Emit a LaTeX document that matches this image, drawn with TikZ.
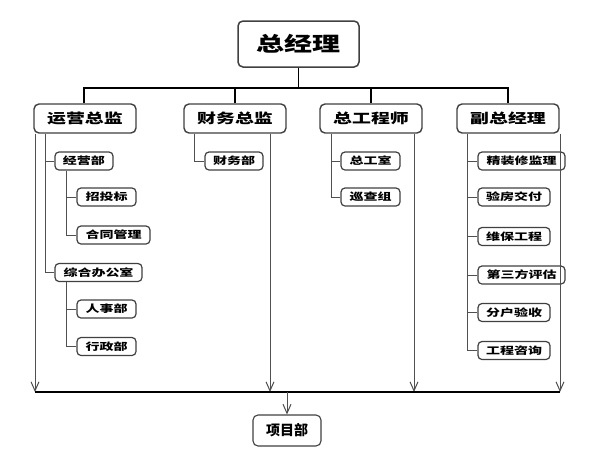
\documentclass[tikz,border=0pt]{standalone}
\usepackage{fontspec}
\usetikzlibrary{arrows.meta}
\newfontfamily\cjk{Noto Sans CJK SC}[FakeStretch=1.4]
\newfontfamily\cjkplain{Noto Sans CJK SC}
\definecolor{boxline}{HTML}{404040}
\definecolor{subline}{HTML}{505050}
\tikzset{
  lvla/.style={draw=boxline,line width=1.5pt,rounded corners=5pt,fill=white,minimum height=46pt,inner sep=0pt,font=\cjk\bfseries\fontsize{20}{20}\selectfont},
  lvlb/.style={draw=boxline,line width=1.4pt,rounded corners=5pt,fill=white,minimum width=102pt,minimum height=29pt,inner sep=0pt,font=\cjk\bfseries\fontsize{13.5}{14}\selectfont},
  lvlc/.style={draw=boxline,line width=1.2pt,rounded corners=4pt,fill=white,minimum height=18pt,inner sep=0pt,font=\cjk\bfseries\fontsize{10}{10}\selectfont},
  proj/.style={draw=boxline,line width=1.1pt,rounded corners=5pt,fill=white,minimum width=68pt,minimum height=31pt,inner sep=0pt,font=\cjkplain\bfseries\fontsize{14}{14}\selectfont},
  trunk/.style={draw=black,line width=1.6pt},
  branch/.style={draw=subline,line width=1pt},
}
\begin{document}
\begin{tikzpicture}[x=1pt,y=-1pt,>={Straight Barb[length=9pt,width=8pt]}]
    \useasboundingbox (0,0) rectangle (598,448);
    % top
    \node[lvla,minimum width=121pt] (gm) at (298.5,44) {总经理};
    \coordinate (bus) at (298.5,88);
    \coordinate (bot) at (298.5,392);
    % second row
    \node[lvlb] (yy) at (85,118.5) {运营总监};
    \node[lvlb] (cw) at (235,118.5) {财务总监};
    \node[lvlb] (zg) at (371,118.5) {总工程师};
    \node[lvlb] (fz) at (508,118.5) {副总经理};
    % departments
    \node[lvlc,minimum width=58pt] (jyb) at (84,161) {经营部};
    \node[lvlc,minimum width=59pt] (ztb) at (106.5,197) {招投标};
    \node[lvlc,minimum width=73pt] (htgl) at (113.5,235) {合同管理};
    \node[lvlc,minimum width=87pt] (zhb) at (98.5,272.5) {综合办公室};
    \node[lvlc,minimum width=59pt] (rsb) at (106.5,309) {人事部};
    \node[lvlc,minimum width=59pt] (xzb) at (106.5,346.5) {行政部};
    \node[lvlc,minimum width=58pt] (cwb) at (234,161) {财务部};
    \node[lvlc,minimum width=59pt] (zgs) at (370.5,161) {总工室};
    \node[lvlc,minimum width=59pt] (xcz) at (370.5,197) {巡查组};
    \node[lvlc,minimum width=87pt] (jzx) at (521.5,161) {精装修监理};
    \node[lvlc,minimum width=72pt] (yfjf) at (514,197) {验房交付};
    \node[lvlc,minimum width=72pt] (wbgc) at (514,236.5) {维保工程};
    \node[lvlc,minimum width=87pt] (dsf) at (521.5,275) {第三方评估};
    \node[lvlc,minimum width=72pt] (fhys) at (514,312.5) {分户验收};
    \node[lvlc,minimum width=72pt] (gczx) at (514,350.5) {工程咨询};
    \node[proj] (xmb) at (287,430.5) {项目部};
    % trunk
    \draw[trunk] (gm.south) -- (bus);
    \draw[trunk] ([xshift=-1pt]yy.north) |- (bus) -| (fz.north);
    \draw[trunk] (cw.north) -- (cw.north |- bus);
    \draw[trunk] (zg.north) -- (zg.north |- bus);
    % branches
    \draw[branch] ([xshift=-40pt]yy.south) |- (jyb.west) ([xshift=-40pt]yy.south) |- (zhb.west);
    \draw[branch] ([xshift=-18pt]jyb.south) |- (ztb.west) ([xshift=-18pt]jyb.south) |- (htgl.west);
    \draw[branch] ([xshift=-32.5pt]zhb.south) |- (rsb.west) ([xshift=-32.5pt]zhb.south) |- (xzb.west);
    \draw[branch] ([xshift=-41pt]cw.south) |- (cwb.west);
    \draw[branch] ([xshift=-40pt]zg.south) |- (zgs.west) ([xshift=-40pt]zg.south) |- (xcz.west);
    \draw[branch] ([xshift=-41pt]fz.south) |- (jzx.west) ([xshift=-41pt]fz.south) |- (yfjf.west)
        ([xshift=-41pt]fz.south) |- (wbgc.west) ([xshift=-41pt]fz.south) |- (dsf.west)
        ([xshift=-41pt]fz.south) |- (fhys.west) ([xshift=-41pt]fz.south) |- (gczx.west);
    % arrows down to project
    \draw[branch,->] ([xshift=-50pt]yy.south) -- ([xshift=-50pt]yy.south |- bot);
    \draw[branch,->] ([xshift=35pt]cw.south) -- ([xshift=35pt]cw.south |- bot);
    \draw[branch,->] ([xshift=43pt]zg.south) -- ([xshift=43pt]zg.south |- bot);
    \draw[branch,->] ([xshift=52pt]fz.south) -- ([xshift=52pt]fz.south |- bot);
    \draw[draw=black,line width=1.2pt] ([xshift=-50pt]yy.south |- bot) -- ([xshift=52pt]fz.south |- bot);
    \draw[branch,->] (xmb.north |- bot) -- (xmb.north);
\end{tikzpicture}
\end{document}
